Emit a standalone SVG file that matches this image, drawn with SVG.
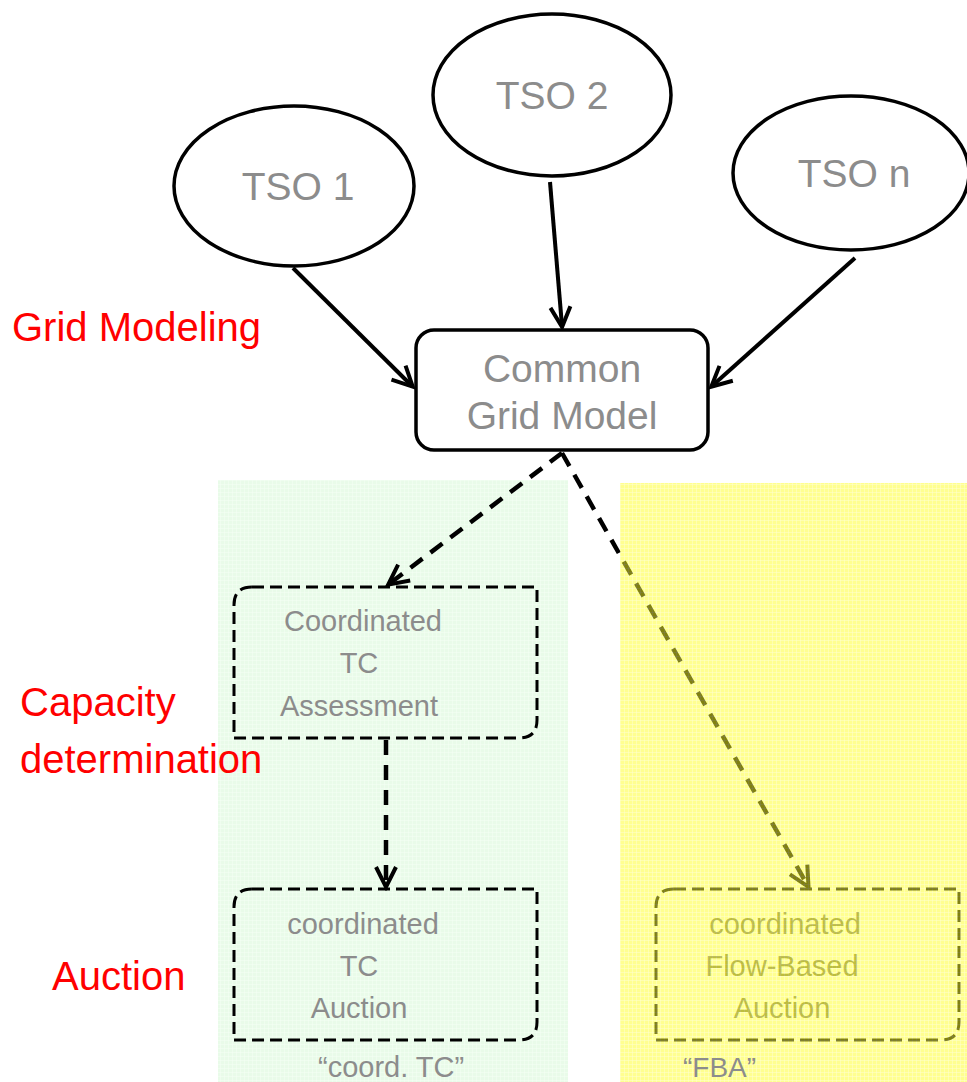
<svg xmlns="http://www.w3.org/2000/svg" width="967" height="1082" viewBox="0 0 967 1082">
  <style>
    .lbl { font-family: "Liberation Sans", Arial, sans-serif; fill: #8c8c8c; }
    .red { font-family: "Liberation Sans", Arial, sans-serif; fill: #ff0000; font-size: 40px; }
    .node { fill: #ffffff; stroke: #000000; stroke-width: 3.5; }
    .dbox { fill: none; stroke: #000000; stroke-width: 3; stroke-dasharray: 12 6; }
    .solid { stroke: #000000; stroke-width: 4; fill: none; marker-end: url(#arr); }
    .dash { stroke: #000000; stroke-width: 4.5; fill: none; stroke-dasharray: 15 10; marker-end: url(#arr); }
    .olive { fill: #7a7a5a; }
  </style>
  <defs>
    <marker id="arr" viewBox="-4 -4 28 28" refX="19" refY="10" markerWidth="28" markerHeight="28" markerUnits="userSpaceOnUse" orient="auto">
      <path d="M0,0 L20,10 L0,20" fill="none" stroke="#000" stroke-width="4"/>
    </marker>
    <pattern id="gridG" width="4" height="4" patternUnits="userSpaceOnUse">
      <rect width="4" height="4" fill="#e9fbe9"/>
      <path d="M0,0 H4 M0,0 V4" stroke="#f6fff6" stroke-width="1"/>
    </pattern>
    <pattern id="gridY" width="4" height="4" patternUnits="userSpaceOnUse">
      <rect width="4" height="4" fill="#ffff20"/>
      <path d="M0,0 H4 M0,0 V4" stroke="#ffffa0" stroke-width="1"/>
    </pattern>
  </defs>

  <rect width="967" height="1082" fill="#ffffff"/>

  <!-- coordinated TC lane background -->
  <rect id="laneTC" x="218" y="480" width="350" height="602" fill="url(#gridG)"/>

  <!-- stage labels -->
  <text class="red" x="12" y="341">Grid Modeling</text>
  <text class="red" x="20" y="716">Capacity</text>
  <text class="red" x="20" y="773">determination</text>
  <text class="red" x="52" y="990">Auction</text>

  <g id="tso1">
    <ellipse class="node" cx="294" cy="186" rx="120" ry="80"/>
    <text class="lbl" x="298" y="200" font-size="39" text-anchor="middle">TSO 1</text>
  </g>
  <g id="tso2">
    <ellipse class="node" cx="552" cy="95" rx="119" ry="81"/>
    <text class="lbl" x="552" y="109" font-size="39" text-anchor="middle">TSO 2</text>
  </g>
  <g id="tson">
    <ellipse class="node" cx="851" cy="173" rx="118" ry="77"/>
    <text class="lbl" x="854" y="187" font-size="39" text-anchor="middle">TSO n</text>
  </g>

  <g id="cgm">
    <rect class="node" x="416" y="330" width="292" height="120" rx="18"/>
    <text class="lbl" x="562" y="382" font-size="39" text-anchor="middle">Common</text>
    <text class="lbl" x="562" y="429" font-size="39" text-anchor="middle">Grid Model</text>
  </g>

  <g id="tcAssessment">
    <path class="dbox" d="M252,587 H537 V720 Q537,738 519,738 H234 V605 Q234,587 252,587 Z"/>
    <text class="lbl" x="363" y="631" font-size="29" text-anchor="middle">Coordinated</text>
    <text class="lbl" x="359" y="673" font-size="29" text-anchor="middle">TC</text>
    <text class="lbl" x="359" y="716" font-size="29" text-anchor="middle">Assessment</text>
  </g>

  <g id="tcAuction">
    <path class="dbox" d="M252,889 H537 V1022 Q537,1040 519,1040 H234 V907 Q234,889 252,889 Z"/>
    <text class="lbl" x="363" y="934" font-size="29" text-anchor="middle">coordinated</text>
    <text class="lbl" x="359" y="976" font-size="29" text-anchor="middle">TC</text>
    <text class="lbl" x="359" y="1018" font-size="29" text-anchor="middle">Auction</text>
    <text class="lbl" x="318" y="1077" font-size="29">“coord. TC”</text>
  </g>

  <g id="connectors">
    <line class="solid" x1="293" y1="268" x2="412" y2="386"/>
    <line class="solid" x1="550" y1="182" x2="562" y2="326"/>
    <line class="solid" x1="855" y1="258" x2="712" y2="386"/>
    <line class="dash" x1="562" y1="453" x2="389" y2="584"/>
    <line class="dash" x1="386" y1="740" x2="386" y2="886"/>
    <line class="dash" x1="562" y1="453" x2="808" y2="886"/>
  </g>

  <g id="fbAuction">
    <path class="dbox" d="M674,889 H959 V1022 Q959,1040 941,1040 H656 V907 Q656,889 674,889 Z"/>
    <text class="lbl olive" x="785" y="934" font-size="29" text-anchor="middle">coordinated</text>
    <text class="lbl olive" x="782" y="976" font-size="29" text-anchor="middle">Flow-Based</text>
    <text class="lbl olive" x="782" y="1018" font-size="29" text-anchor="middle">Auction</text>
  </g>

  <!-- translucent FBA lane laid over its contents -->
  <rect id="laneFBA" x="620" y="483" width="347" height="599" fill="url(#gridY)" opacity="0.5"/>
  <text id="fbaTag" class="lbl" x="683" y="1077" font-size="28">“FBA”</text>
</svg>
